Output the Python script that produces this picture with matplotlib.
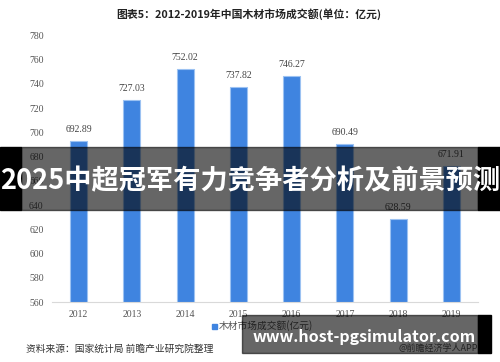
import matplotlib
matplotlib.use("Agg")
import matplotlib.pyplot as plt
from matplotlib.patches import Rectangle

plt.rcParams['font.family'] = ['Noto Sans CJK SC', 'DejaVu Sans']

years = ["2012", "2013", "2014", "2015", "2016", "2017", "2018", "2019"]
values = [692.89, 727.03, 752.02, 737.82, 746.27, 690.49, 628.59, 671.91]
yticks = [560, 580, 600, 620, 640, 660, 680, 700, 720, 740, 760, 780]

title = "图表5：2012-2019年中国木材市场成交额(单位：亿元)"
legend_label = "木材市场成交额(亿元)"
source = "资料来源：国家统计局 前瞻产业研究院整理"
credit = "@前瞻经济学人APP"
banner = "2025中超冠军有力竞争者分析及前景预测"
site = "www.host-pgsimulator.com"

W, H = 500, 362
fig = plt.figure(figsize=(W / 100, H / 100), dpi=100)
fig.patch.set_facecolor("white")

def fx(px):
    return px / W

def fy(py):
    return 1 - py / H

ax = fig.add_axes([fx(52), fy(302), fx(478) - fx(52), fy(35.5) - fy(302)])
x = list(range(len(years)))
bar_color = "#3F84E0"
ax.bar(x, values, width=0.32, color=bar_color, edgecolor="#9CC2F2",
       linewidth=0.8, zorder=2)
ax.set_ylim(560, 780)
ax.set_xlim(-0.5, len(years) - 0.5)
ax.set_yticks(yticks)
ax.set_yticklabels([str(t) for t in yticks], family="Liberation Serif",
                   fontsize=7, color="#555555")
ax.set_xticks(x)
ax.set_xticklabels(years, family="Liberation Serif", fontsize=7, color="#555555")
ax.tick_params(length=0, pad=6)
for s in ["top", "right", "left"]:
    ax.spines[s].set_visible(False)
ax.spines["bottom"].set_color("#D9D9D9")
ax.spines["bottom"].set_linewidth(0.8)

for xi, v in zip(x, values):
    ax.annotate(f"{v:.2f}", (xi, v), xytext=(0, 5), textcoords="offset points",
                ha="center", va="bottom", family="Liberation Serif",
                fontsize=7, color="#444444")

fig.text(0.498, fy(14), title, ha="center", va="center", fontsize=7.8,
         fontweight="bold", color="#222222")

# legend
fig.add_artist(Rectangle((fx(212), fy(328.5)), fx(4.5), 4.5 / H,
                         color=bar_color, transform=fig.transFigure))
fig.text(fx(219), fy(326), legend_label, ha="left", va="center",
         fontsize=7, color="#555555")

fig.text(fx(26), fy(349), source, ha="left", va="center",
         fontsize=7, color="#333333")
fig.text(fx(478), fy(348), credit, ha="right", va="center",
         fontsize=6.5, color="#555555")

# banner overlay across the chart
fig.add_artist(Rectangle((fx(21), fy(210)), fx(478) - fx(21), (210 - 147) / H,
                         color="black", alpha=0.6, transform=fig.transFigure,
                         zorder=5))
fig.add_artist(Rectangle((0, fy(210)), fx(21), (210 - 147) / H,
                         color="black", transform=fig.transFigure, zorder=5))
fig.add_artist(Rectangle((fx(478), fy(210)), fx(22), (210 - 147) / H,
                         color="black", transform=fig.transFigure, zorder=5))
fig.text(0.5, fy(181), banner, ha="center", va="center", fontsize=19.6,
         fontweight="bold", color="white", zorder=6)

# site box bottom right
fig.add_artist(Rectangle((fx(242), fy(353)), fx(478) - fx(242), (353 - 315) / H,
                         color="black", alpha=0.6, transform=fig.transFigure,
                         zorder=5))
fig.add_artist(Rectangle((fx(478), fy(353)), fx(13), (353 - 315) / H,
                         color="black", transform=fig.transFigure, zorder=5))
fig.text(fx(364), fy(337), site, ha="center", va="center", fontsize=11.5,
         fontweight="bold", color="white", zorder=6)

fig.savefig("out.png", dpi=100, facecolor="white")
